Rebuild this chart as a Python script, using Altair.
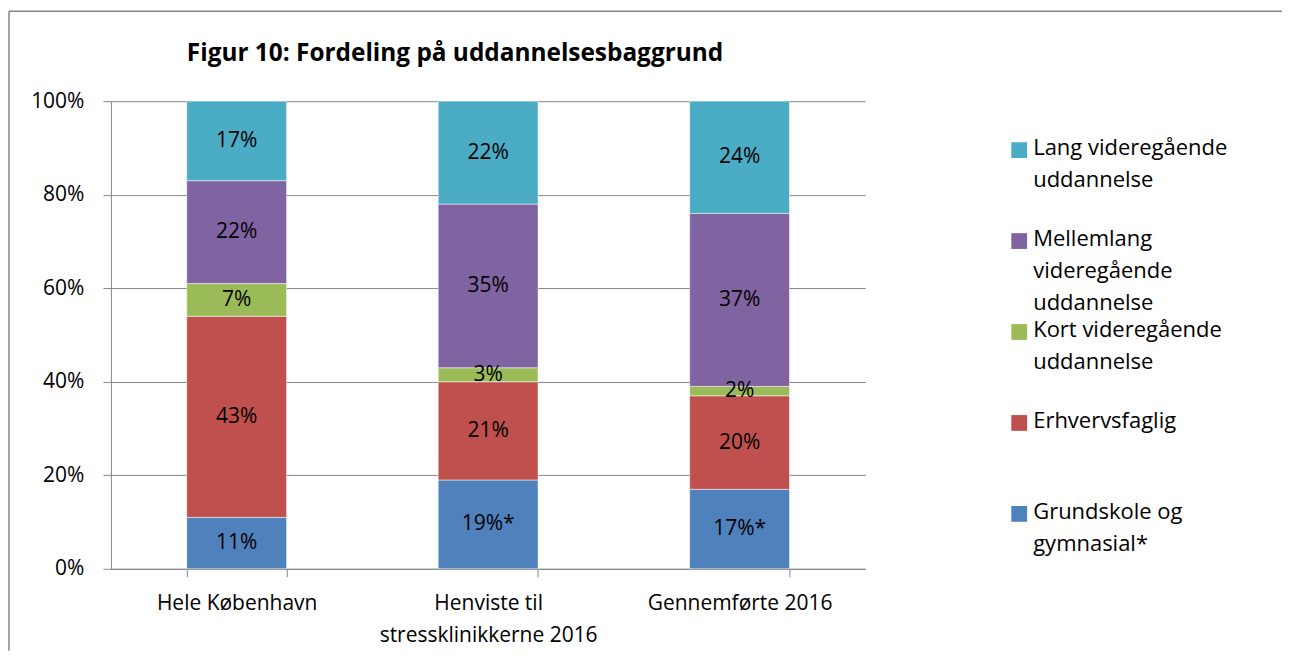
import altair as alt
import pandas as pd

# ---- data ----
categories = ["Hele København", "Henviste til\nstressklinikkerne 2016", "Gennemførte 2016"]
series = [
    "Grundskole og gymnasial*",
    "Erhvervsfaglig",
    "Kort videregående uddannelse",
    "Mellemlang videregående uddannelse",
    "Lang videregående uddannelse",
]
colors = ["#4F81BD", "#C0504D", "#9BBB59", "#8064A2", "#4BACC6"]

grundskole = [11, 19, 17]
erhvervsfaglig = [43, 21, 20]
kort = [7, 3, 2]
mellemlang = [22, 35, 37]
lang = [17, 22, 24]
grundskole_suffix = ["", "*", "*"]

legend_order = [
    "Lang videregående uddannelse",
    "Mellemlang videregående uddannelse",
    "Kort videregående uddannelse",
    "Erhvervsfaglig",
    "Grundskole og gymnasial*",
]
legend_text = [
    "Lang videregående\nuddannelse",
    "Mellemlang\nvideregående\nuddannelse",
    "Kort videregående\nuddannelse",
    "Erhvervsfaglig",
    "Grundskole og\ngymnasial*",
]
y_ticks = [0, 20, 40, 60, 80, 100]
title_text = "Figur 10: Fordeling på uddannelsesbaggrund"

FONT = "Open Sans"
GRAY = "#878787"

# ---- build table ----
values_by_series = [grundskole, erhvervsfaglig, kort, mellemlang, lang]
rows = []
for j, (s, vals) in enumerate(zip(series, values_by_series)):
    for i, c in enumerate(categories):
        suffix = grundskole_suffix[i] if j == 0 else ""
        rows.append({"cat": c, "series": s, "order": j, "value": vals[i],
                     "label": f"{vals[i]}%{suffix}"})
df = pd.DataFrame(rows)

leg_df = pd.DataFrame({"series": legend_order, "text": legend_text})
frame_df = pd.DataFrame({"frame": [0]})

color_scale = alt.Scale(domain=series, range=colors)

base = alt.Chart(df).transform_stack(
    stack="value", groupby=["cat"], sort=[alt.SortField("order")], as_=["y0", "y1"]
).transform_calculate(ymid="(datum.y0 + datum.y1) / 2")

x_enc = alt.X(
    "cat:N",
    sort=categories,
    scale=alt.Scale(paddingInner=0.603, paddingOuter=0.3015),
    axis=alt.Axis(
        title=None, labelAngle=0, tickBand="extent", tickSize=8, tickColor=GRAY,
        domainColor=GRAY, labelFont=FONT, labelFontSize=21, labelColor="black",
        labelPadding=16, labelLineHeight=32, labelExpr="split(datum.label, '\\n')",
        labelLimit=400, grid=False,
    ),
)

bars = base.mark_bar(stroke="white", strokeWidth=0.5).encode(
    x=x_enc,
    y=alt.Y(
        "y0:Q",
        scale=alt.Scale(domain=[0, 100], nice=False),
        axis=alt.Axis(
            title=None, values=y_ticks, labelExpr="datum.value + '%'",
            grid=True, gridColor=GRAY, domainColor=GRAY, tickColor=GRAY,
            tickSize=8, labelPadding=19, labelFont=FONT, labelFontSize=21,
            labelColor="black",
        ),
    ),
    y2="y1:Q",
    color=alt.Color("series:N", scale=color_scale, legend=None),
)

labels = base.mark_text(font=FONT, fontSize=21, color="black").encode(
    x=alt.X("cat:N", sort=categories),
    y=alt.Y("ymid:Q"),
    text="label:N",
)

main = alt.layer(bars, labels).properties(
    width=755,
    height=468,
    title=alt.TitleParams(
        text=title_text, anchor="start", frame="group", dx=76, offset=0,
        baseline="bottom", font=FONT, fontSize=24.4, fontWeight="bold", color="black",
    ),
)

leg_y = alt.Y("series:N", sort=legend_order, axis=None,
              scale=alt.Scale(type="point", padding=0.538))

leg_sq = alt.Chart(leg_df).mark_square(size=250, opacity=1).encode(
    y=leg_y,
    x=alt.value(16),
    color=alt.Color("series:N", scale=color_scale, legend=None),
)
leg_txt = alt.Chart(leg_df).mark_text(
    align="left", baseline="top", dy=-12, lineBreak="\n", lineHeight=32,
    font=FONT, fontSize=22, color="black",
).encode(y=leg_y, x=alt.value(30), text="text:N")

frame_top = alt.Chart(frame_df).mark_rule(color=GRAY, strokeWidth=1.5).encode(
    x=alt.value(-995), x2=alt.value(279), y=alt.value(-90)
)
frame_left = alt.Chart(frame_df).mark_rule(color=GRAY, strokeWidth=1.5).encode(
    x=alt.value(-995), y=alt.value(-90), y2=alt.value(550)
)

legend_panel = alt.layer(frame_top, frame_left, leg_sq, leg_txt).properties(
    width=270, height=462
)

chart = alt.hconcat(main, legend_panel, spacing=138, bounds="flush").properties(
    padding={"left": 0, "top": 2, "right": 0, "bottom": 0}
).configure_view(strokeWidth=0)

chart.save("out.html", embed_options={"renderer": "svg", "actions": False})
